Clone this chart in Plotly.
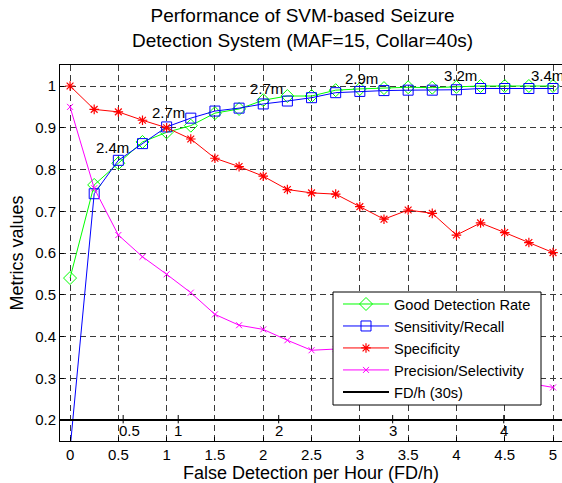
import plotly.graph_objects as go

fdh = [0, 0.25, 0.5, 0.75, 1.0, 1.25, 1.5, 1.75, 2.0, 2.25, 2.5, 2.75, 3.0, 3.25, 3.5, 3.75, 4.0, 4.25, 4.5, 4.75, 5.0]
good_rate = [0.54, 0.763, 0.815, 0.866, 0.889, 0.905, 0.935, 0.945, 0.966, 0.976, 0.976, 0.990, 0.993, 0.995, 0.997, 0.996, 0.998, 1.0, 1.0, 1.0, 1.0]
sensitivity = [0.13, 0.742, 0.822, 0.862, 0.902, 0.923, 0.940, 0.947, 0.957, 0.964, 0.972, 0.984, 0.987, 0.989, 0.990, 0.990, 0.991, 0.994, 0.994, 0.994, 0.994]
specificity = [1.0, 0.944, 0.938, 0.918, 0.900, 0.873, 0.827, 0.807, 0.784, 0.752, 0.744, 0.741, 0.711, 0.681, 0.703, 0.695, 0.643, 0.672, 0.649, 0.625, 0.601]
precision = [0.95, 0.755, 0.643, 0.591, 0.549, 0.505, 0.453, 0.427, 0.417, 0.391, 0.367, 0.370, 0.362, 0.352, 0.342, 0.332, 0.320, 0.310, 0.300, 0.288, 0.278]

fd30_level = 0.2
fd30_span = [-0.104, 5.093]
fd30_labels = ["0.5", "1", "2", "3", "4"]
fd30_pos = [0.55, 1.12, 2.16, 3.34, 4.49]
fd30_label_pos = [0.62, 1.12, 2.16, 3.34, 4.49]

ann_text = ["2.4m", "2.7m", "2.7m", "2.9m", "3.2m", "3.4m"]
ann_x = [0.44, 1.02, 2.03, 3.02, 4.04, 4.94]
ann_y = [0.853, 0.936, 0.994, 1.018, 1.026, 1.026]

title_text = "Performance of SVM-based Seizure<br>Detection System (MAF=15, Collar=40s)"

FONT = "Liberation Sans, Arial, sans-serif"

fig = go.Figure()
fig.add_trace(go.Scatter(x=fdh, y=good_rate, name="Good Detection Rate", mode="lines+markers",
                         line=dict(color="#00FF00", width=1),
                         marker=dict(symbol="diamond-open", size=10, color="#00FF00", line=dict(width=1))))
fig.add_trace(go.Scatter(x=fdh, y=sensitivity, name="Sensitivity/Recall", mode="lines+markers",
                         line=dict(color="#0000FF", width=1),
                         marker=dict(symbol="square-open", size=10, color="#0000FF", line=dict(width=1))))
fig.add_trace(go.Scatter(x=fdh, y=specificity, name="Specificity", mode="lines+markers",
                         line=dict(color="#FF0000", width=1),
                         marker=dict(symbol="asterisk-open", size=8, color="#FF0000", line=dict(width=1.2, color="#FF0000"))))
fig.add_trace(go.Scatter(x=fdh, y=precision, name="Precision/Selectivity", mode="lines+markers",
                         line=dict(color="#FF00FF", width=1),
                         marker=dict(symbol="x-thin-open", size=6, color="#FF00FF", line=dict(width=1, color="#FF00FF"))))
fig.add_trace(go.Scatter(x=fd30_span, y=[fd30_level, fd30_level], name="FD/h (30s)", mode="lines",
                         line=dict(color="black", width=2), cliponaxis=False))

# ticks of FD/h (30s) scale
tx, ty = [], []
for p in fd30_pos:
    tx += [p, p, None]
    ty += [fd30_level - 0.008, fd30_level + 0.012, None]
fig.add_trace(go.Scatter(x=tx, y=ty, mode="lines", line=dict(color="black", width=1),
                         showlegend=False, hoverinfo="skip"))

for t, xp in zip(fd30_labels, fd30_label_pos):
    fig.add_annotation(x=xp, y=fd30_level - 0.024, text=t, showarrow=False,
                       font=dict(size=15, color="black", family=FONT), xanchor="center", yanchor="middle")

for t, xp, yp in zip(ann_text, ann_x, ann_y):
    fig.add_annotation(x=xp, y=yp, text=t, showarrow=False,
                       font=dict(size=15, color="black", family=FONT), xanchor="center", yanchor="middle")

# title
fig.add_annotation(xref="paper", yref="paper", x=(302 - 60) / 502, y=(441 - 3) / 376,
                   text=title_text, showarrow=False, xanchor="center", yanchor="top",
                   font=dict(size=19, family=FONT, color="black"))

# legend box
fig.add_shape(type="rect", xref="paper", yref="paper",
              x0=(333 - 60) / 502, x1=(541 - 60) / 502, y0=(441 - 405) / 376, y1=(441 - 292) / 376,
              fillcolor="white", line=dict(color="black", width=1), layer="above")

fig.update_layout(
    width=562, height=483,
    margin=dict(l=60, r=0, t=65, b=42),
    paper_bgcolor="white", plot_bgcolor="white",
    font=dict(family=FONT, color="black", size=15),
    showlegend=True,
    legend=dict(x=(338 - 60) / 502, y=(441 - 288) / 376, xanchor="left", yanchor="top",
                bgcolor="rgba(0,0,0,0)", borderwidth=0, font=dict(size=14.6, family=FONT),
                itemwidth=46, tracegroupgap=0),
)
fig.update_xaxes(range=[-0.104, 5.093], tickvals=[0, 0.5, 1, 1.5, 2, 2.5, 3, 3.5, 4, 4.5, 5],
                 ticktext=["0", "0.5", "1", "1.5", "2", "2.5", "3", "3.5", "4", "4.5", "5"],
                 showgrid=True, gridcolor="#3a3a3a", griddash="6px,4px", gridwidth=1,
                 showline=True, linecolor="black", linewidth=1, mirror=True,
                 ticks="inside", ticklen=4, tickcolor="black", zeroline=False,
                 title=dict(text="False Detection per Hour (FD/h)", font=dict(size=18), standoff=8),
                 tickfont=dict(size=15))
fig.update_yaxes(range=[0.1497, 1.0503], tickvals=[0.2, 0.3, 0.4, 0.5, 0.6, 0.7, 0.8, 0.9, 1.0],
                 ticktext=["0.2", "0.3", "0.4", "0.5", "0.6", "0.7", "0.8", "0.9", "1"],
                 showgrid=True, gridcolor="#3a3a3a", griddash="6px,4px", gridwidth=1,
                 showline=True, linecolor="black", linewidth=1, mirror=False,
                 ticks="inside", ticklen=4, tickcolor="black", zeroline=False,
                 title=dict(text="Metrics values", font=dict(size=18), standoff=6),
                 tickfont=dict(size=15))

fig.write_html("out.html")
